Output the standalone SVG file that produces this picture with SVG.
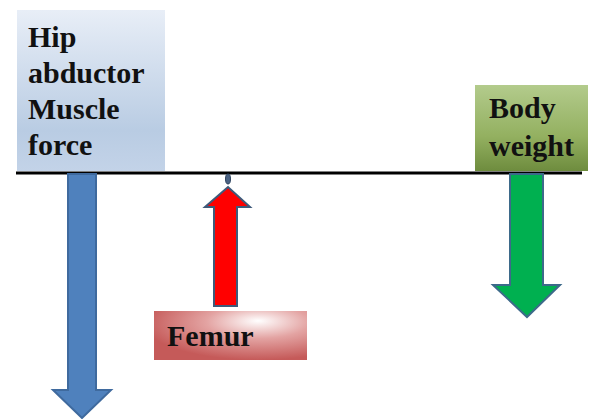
<svg xmlns="http://www.w3.org/2000/svg" width="610" height="419" viewBox="0 0 610 419">
  <defs>
    <linearGradient id="gBlue" x1="0" y1="0" x2="0" y2="1">
      <stop offset="0" stop-color="#e8eef7"/>
      <stop offset="0.75" stop-color="#b9cce3"/>
      <stop offset="1" stop-color="#c3d3e8"/>
    </linearGradient>
    <linearGradient id="gGreen" x1="0" y1="0" x2="0" y2="1">
      <stop offset="0" stop-color="#b3cb8c"/>
      <stop offset="0.6" stop-color="#93b060"/>
      <stop offset="1" stop-color="#6e8c3e"/>
    </linearGradient>
    <radialGradient id="gRed" cx="0.68" cy="0.25" r="0.75" fx="0.68" fy="0.2">
      <stop offset="0" stop-color="#ffffff"/>
      <stop offset="0.45" stop-color="#e3a3a2"/>
      <stop offset="1" stop-color="#c55a59"/>
    </radialGradient>
    <style>
      .lbl { font-family: "Liberation Serif", "Times New Roman", serif; font-weight: bold; font-size: 30px; fill: #111; }
      .arrow { stroke-width: 2; stroke-linejoin: miter; }
    </style>
  </defs>

  <g id="hip-box">
    <rect x="17" y="10" width="148" height="161" fill="url(#gBlue)"/>
    <text class="lbl" x="28" y="47">Hip</text>
    <text class="lbl" x="28" y="83">abductor</text>
    <text class="lbl" x="28" y="119">Muscle</text>
    <text class="lbl" x="28" y="155">force</text>
  </g>

  <g id="body-weight-box">
    <rect x="475" y="85" width="113" height="86" fill="url(#gGreen)"/>
    <text class="lbl" x="489" y="118">Body</text>
    <text class="lbl" x="489" y="156">weight</text>
  </g>

  <g id="femur-box">
    <rect x="154" y="311" width="153" height="49" fill="url(#gRed)"/>
    <text class="lbl" x="167" y="346">Femur</text>
  </g>

  <g id="connectors">
    <line x1="16" y1="173" x2="582" y2="173" stroke="#000" stroke-width="3"/>
    <path class="arrow" d="M68,174 L96,174 L96,390 L111,390 L82,418 L53,390 L68,390 Z" fill="#4f81bd" stroke="#3f6a9e"/>
    <path class="arrow" d="M214,306 L237,306 L237,207 L250,207 L228,187 L205,207 L214,207 Z" fill="#ff0000" stroke="#3e5a7a"/>
    <ellipse cx="228" cy="179" rx="2.5" ry="5" fill="#4a6283" stroke="#2f4560" stroke-width="1"/>
    <path class="arrow" d="M510,174 L543,174 L543,285 L560,285 L527,317 L493,285 L510,285 Z" fill="#00b050" stroke="#3d6a8a"/>
  </g>
</svg>
